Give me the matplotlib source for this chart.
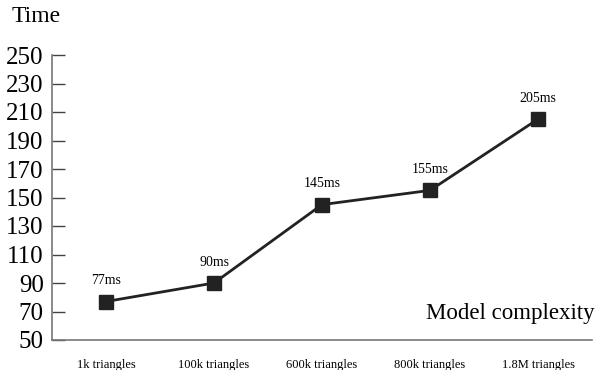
import matplotlib.pyplot as plt

# datos
categorias = ["1k triangles", "100k triangles", "600k triangles", "800k triangles", "1.8M triangles"]
tiempos = [77, 90, 145, 155, 205]
etiquetas = ["77ms", "90ms", "145ms", "155ms", "205ms"]
yticks = [50, 70, 90, 110, 130, 150, 170, 190, 210, 230, 250]

plt.rcParams['font.family'] = ['Liberation Serif', 'DejaVu Serif']

fig = plt.figure(figsize=(5.99, 3.70), dpi=100)
ax = fig.add_axes([52/599, 30/370, 540/599, 285/370])

x = list(range(len(categorias)))
ax.plot(x, tiempos, color="#222222", linewidth=2, marker="s", markersize=10)

for xi, yi, lab in zip(x, tiempos, etiquetas):
    ax.annotate(lab, (xi, yi), xytext=(0, 15), textcoords="offset points",
                ha="center", va="center", fontsize=10)

ax.set_xlim(-0.5, 4.5)
ax.set_ylim(50, 250)
ax.set_yticks(yticks)
ax.set_xticks(x)
ax.set_xticklabels(categorias, fontsize=9)
ax.tick_params(axis="y", direction="in", length=9.5, width=1, labelsize=18, pad=6, color="#444444")
ax.tick_params(axis="x", length=0, pad=14)

for s in ["top", "right"]:
    ax.spines[s].set_visible(False)
for s in ["left", "bottom"]:
    ax.spines[s].set_color("#777777")
    ax.spines[s].set_linewidth(1.2)

fig.text(12/599, 1 - 17/370, "Time", fontsize=17, va="center", ha="left")
ax.text(1.005, 0.055, "Model complexity", transform=ax.transAxes, fontsize=16.5,
        ha="right", va="bottom")

plt.savefig("out.png", dpi=100)
